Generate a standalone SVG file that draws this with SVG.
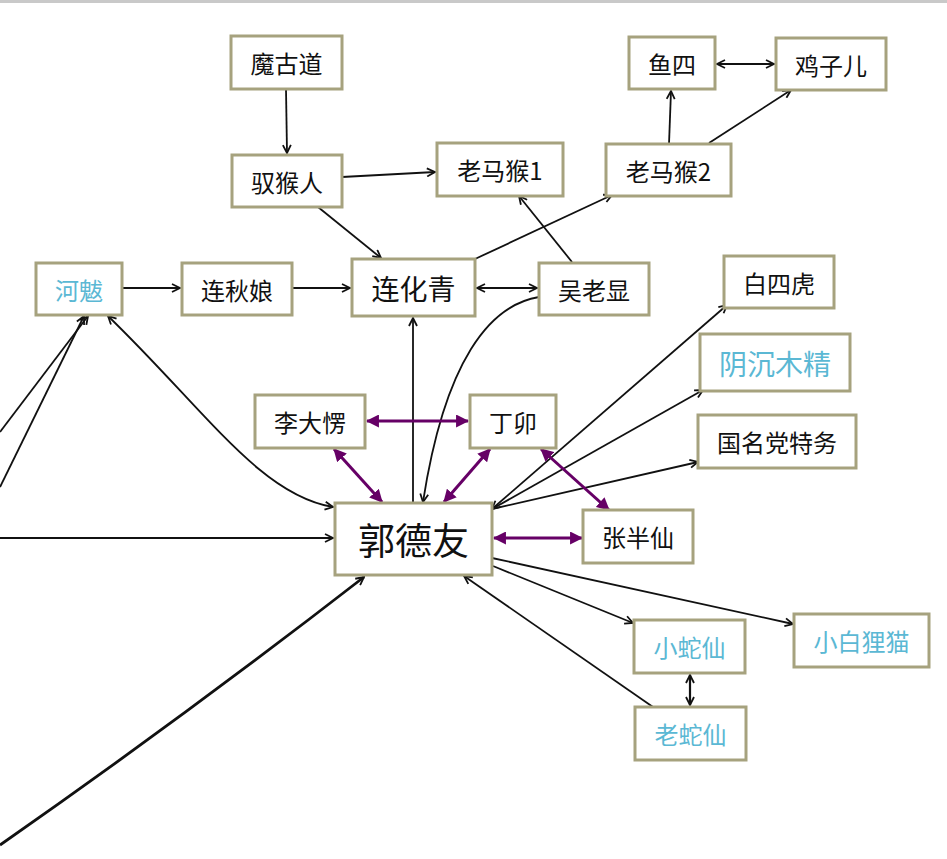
<svg xmlns="http://www.w3.org/2000/svg" width="947" height="859" viewBox="0 0 947 859">
<style>
.box{fill:#fff;stroke:#a6a27e;stroke-width:3}
.t{font-family:"Noto Sans CJK SC","Noto Sans",sans-serif;font-size:24px;fill:#111;text-anchor:middle;dominant-baseline:central}
.l{font-size:28px}
.xl{font-size:37px}
.b{fill:#5bb8d4}
.c{fill:none;stroke:#111;stroke-width:1.8}
.p{fill:none;stroke:#660066;stroke-width:3}
</style>
<defs>
<marker id="a" viewBox="0 0 10 10" refX="9" refY="5" markerWidth="10" markerHeight="10" markerUnits="userSpaceOnUse" orient="auto-start-reverse">
<path d="M1,1 L9,5 L1,9" fill="none" stroke="#111" stroke-width="1.8"/>
</marker>
<marker id="pa" viewBox="0 0 12 12" refX="11" refY="6" markerWidth="13" markerHeight="13" markerUnits="userSpaceOnUse" orient="auto-start-reverse">
<path d="M0,0 L12,6 L0,12 z" fill="#660066"/>
</marker>
</defs>
<rect x="0" y="0" width="947" height="3" fill="#c9c9c9"/>
<g id="connectors">
<path class="c" d="M286,89 L287,153" marker-end="url(#a)"/>
<path class="c" d="M342,177 L435,172" marker-end="url(#a)"/>
<path class="c" d="M318,207 L381,258" marker-end="url(#a)"/>
<path class="c" d="M122,288 L180,288" marker-end="url(#a)"/>
<path class="c" d="M292,288 L350,288" marker-end="url(#a)"/>
<path class="c" d="M477,288 L537,288" marker-start="url(#a)" marker-end="url(#a)"/>
<path class="c" d="M475,259 L612,195" marker-end="url(#a)"/>
<path class="c" d="M572,262 L519,196" marker-end="url(#a)"/>
<path class="c" d="M669,144 L671,91" marker-end="url(#a)"/>
<path class="c" d="M709,143 L791,90" marker-end="url(#a)"/>
<path class="c" d="M717,64 L774,64" marker-start="url(#a)" marker-end="url(#a)"/>
<path class="c" d="M413,503 L413,318" marker-end="url(#a)"/>
<path class="c" d="M539,297 C490,305 445,360 423,502" marker-end="url(#a)"/>
<path class="c" d="M108,316 C205,410 260,495 333,507" marker-start="url(#a)" marker-end="url(#a)"/>
<path class="c" d="M0,432 L88,316" marker-end="url(#a)"/>
<path class="c" d="M0,487 L84,316" marker-end="url(#a)"/>
<path class="c" d="M0,538 L333,538" marker-end="url(#a)"/>
<path class="c" d="M0,845 Q185,716 364,577" style="stroke-width:2.8" marker-end="url(#a)"/>
<path class="c" d="M492,509 L727,305" marker-start="url(#a)" marker-end="url(#a)"/>
<path class="c" d="M492,509 L703,390" marker-end="url(#a)"/>
<path class="c" d="M492,509 L698,462" marker-end="url(#a)"/>
<path class="c" d="M493,566 L633,623" marker-end="url(#a)"/>
<path class="c" d="M492,558 L793,624" marker-end="url(#a)"/>
<path class="c" d="M653,707 L464,576" marker-end="url(#a)"/>
<path class="c" d="M690,675 L690,705" style="stroke-width:2.2" marker-start="url(#a)" marker-end="url(#a)"/>
<path class="p" d="M367,421 L468,421" marker-start="url(#pa)" marker-end="url(#pa)"/>
<path class="p" d="M334,449 L382,502" marker-start="url(#pa)" marker-end="url(#pa)"/>
<path class="p" d="M490,449 L444,502" marker-start="url(#pa)" marker-end="url(#pa)"/>
<path class="p" d="M541,449 L609,510" marker-start="url(#pa)" marker-end="url(#pa)"/>
<path class="p" d="M494,538 L582,538" marker-start="url(#pa)" marker-end="url(#pa)"/>
</g>
<g id="n-mogudao"><rect class="box" x="231" y="36" width="111" height="53"/><text class="t" x="286.5" y="62.5">魔古道</text></g>
<g id="n-yuhouren"><rect class="box" x="232" y="155" width="110" height="52"/><text class="t" x="287" y="181">驭猴人</text></g>
<g id="n-laomahou1"><rect class="box" x="437" y="143" width="126" height="53"/><text class="t" x="500" y="169.5">老马猴1</text></g>
<g id="n-laomahou2"><rect class="box" x="606" y="144" width="125" height="52"/><text class="t" x="668.5" y="170">老马猴2</text></g>
<g id="n-yusi"><rect class="box" x="629" y="37" width="86" height="52"/><text class="t" x="672" y="63">鱼四</text></g>
<g id="n-jizier"><rect class="box" x="776" y="38" width="110" height="52"/><text class="t" x="831" y="64">鸡子儿</text></g>
<g id="n-heba"><rect class="box" x="36" y="263" width="86" height="52"/><text class="t b" x="79" y="289">河魃</text></g>
<g id="n-lianqiuniang"><rect class="box" x="182" y="263" width="110" height="52"/><text class="t" x="237" y="289">连秋娘</text></g>
<g id="n-lianhuaqing"><rect class="box" x="352" y="259" width="123" height="57"/><text class="t l" x="413.5" y="287.5">连化青</text></g>
<g id="n-wulaoxian"><rect class="box" x="539" y="263" width="110" height="52"/><text class="t" x="594" y="289">吴老显</text></g>
<g id="n-baisihu"><rect class="box" x="724" y="256" width="110" height="52"/><text class="t" x="779" y="282">白四虎</text></g>
<g id="n-yinchenmujing"><rect class="box" x="700" y="334" width="150" height="57"/><text class="t b l" x="775" y="362.5">阴沉木精</text></g>
<g id="n-tewu"><rect class="box" x="698" y="415" width="158" height="53"/><text class="t" x="777" y="441.5">国名党特务</text></g>
<g id="n-lidaleng"><rect class="box" x="255" y="395" width="110" height="53"/><text class="t" x="310" y="421.5">李大愣</text></g>
<g id="n-dingmao"><rect class="box" x="470" y="395" width="86" height="53"/><text class="t" x="513" y="421.5">丁卯</text></g>
<g id="n-guodeyou"><rect class="box" x="335" y="503" width="157" height="72"/><text class="t xl" x="413.5" y="539">郭德友</text></g>
<g id="n-zhangbanxian"><rect class="box" x="583" y="510" width="110" height="53"/><text class="t" x="638" y="536.5">张半仙</text></g>
<g id="n-xiaoshexian"><rect class="box" x="634" y="620" width="111" height="53"/><text class="t b" x="689.5" y="646.5">小蛇仙</text></g>
<g id="n-xiaobailimao"><rect class="box" x="794" y="614" width="135" height="53"/><text class="t b" x="861.5" y="640.5">小白狸猫</text></g>
<g id="n-laoshexian"><rect class="box" x="635" y="707" width="111" height="53"/><text class="t b" x="690.5" y="733.5">老蛇仙</text></g>
</svg>
